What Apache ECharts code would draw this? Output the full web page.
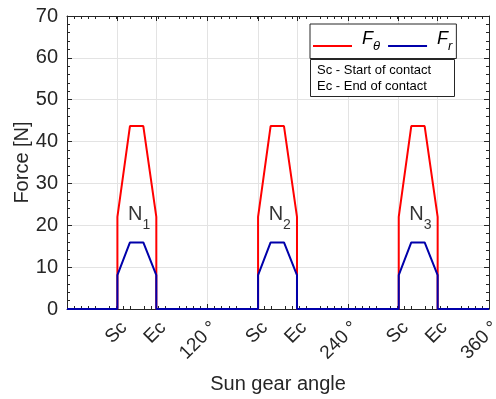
<!DOCTYPE html>
<html>
<head>
<meta charset="utf-8">
<script src="https://cdn.jsdelivr.net/npm/echarts@6/dist/echarts.min.js"></script>
<style>html,body{margin:0;padding:0;background:#fff}#c{width:496px;height:399px}</style>
</head>
<body>
<div id="c"></div>
<script>
// Sun gear angle (deg) breakpoints for each planet contact
const angleN1 = [0, 43, 43, 53.7, 65.1, 76.2, 76.2];
const angleN2 = [163, 163, 173.7, 185.1, 196.2, 196.2];
const angleN3 = [283, 283, 293.7, 305.1, 316.2, 316.2, 360];
// Tangential force F_theta [N]
const fThetaN1 = [0, 0, 22, 43.7, 43.7, 22, 0];
const fThetaN2 = [0, 22, 43.7, 43.7, 22, 0];
const fThetaN3 = [0, 22, 43.7, 43.7, 22, 0, 0];
// Radial force F_r [N]
const fRN1 = [0, 0, 8.1, 15.9, 15.9, 8.1, 0];
const fRN2 = [0, 8.1, 15.9, 15.9, 8.1, 0];
const fRN3 = [0, 8.1, 15.9, 15.9, 8.1, 0, 0];
// x tick positions and labels
const xTickValues = [43, 76.2, 120, 163, 196.2, 240, 283, 316.2, 360];
const xTickLabels = ['Sc', 'Ec', '120 °', 'Sc', 'Ec', '240 °', 'Sc', 'Ec', '360 °'];
// planet labels
const planetNames = ['1', '2', '3'];
const planetLabelX = [61.5, 181.5, 301.5];
const planetLabelY = [20, 20, 20];

const angles = angleN1.concat(angleN2, angleN3);
const fTheta = fThetaN1.concat(fThetaN2, fThetaN3);
const fR = fRN1.concat(fRN2, fRN3);
const thetaData = angles.map((a, i) => [a, fTheta[i]]);
const rData = angles.map((a, i) => [a, fR[i]]);
const planetData = planetLabelX.map((x, i) => ({ value: [x, planetLabelY[i]], name: planetNames[i] }));

const FONT = 'Liberation Sans, Arial, sans-serif';
const AX = '#262626';
const GRID = '#e3e3e3';
const RED = '#ff0000';
const BLUE = '#0000aa';

function xLabel(v) {
  for (let i = 0; i < xTickValues.length; i++) if (Math.abs(xTickValues[i] - v) < 1e-6) return xTickLabels[i];
  return '';
}

const chart = echarts.init(document.getElementById('c'), null, { renderer: 'canvas' });
const xCommon = {
  type: 'value', min: 0, max: 360, interval: 30,
  axisLine: { show: true, onZero: false, lineStyle: { color: AX, width: 1 } },
  axisTick: { show: true, inside: true, length: 5, customValues: xTickValues, lineStyle: { color: AX } },
  minorTick: { show: true, splitNumber: 5, length: 3, lineStyle: { color: AX } },
  splitLine: { show: false },
};
const yCommon = {
  type: 'value', min: 0, max: 70, interval: 10,
  axisLine: { show: true, onZero: false, lineStyle: { color: AX, width: 1 } },
  axisTick: { show: true, inside: true, length: 5, lineStyle: { color: AX } },
  minorTick: { show: true, splitNumber: 5, length: 3, lineStyle: { color: AX } },
  splitLine: { show: false },
};
chart.setOption({
  animation: false,
  backgroundColor: '#fff',
  grid: { left: 67, right: 7, top: 16, bottom: 90, containLabel: false, outerBoundsMode: 'none' },
  title: {
    text: 'Sc - Start of contact\nEc - End of contact',
    left: 310, top: 59,
    padding: [3, 24, 3, 7],
    borderColor: AX, borderWidth: 1, backgroundColor: '#fff',
    textStyle: { fontFamily: FONT, fontSize: 13, fontWeight: 'normal', color: '#000', lineHeight: 16 }
  },
  legend: {
    left: 310, top: 24,
    padding: [6, 4, 6, 3],
    icon: 'rect',
    itemWidth: 39, itemHeight: 2, itemGap: 8,
    borderColor: AX, borderWidth: 1, backgroundColor: '#fff',
    data: [{ name: 'Fθ', itemStyle: { color: RED } }, { name: 'Fr', itemStyle: { color: BLUE } }],
    formatter: function (name) { return name === 'Fθ' ? '{f|F}{s|θ}' : '{f|F}{s|r}'; },
    textStyle: {
      fontFamily: FONT, color: '#000',
      rich: {
        f: { fontSize: 18, fontStyle: 'italic', fontFamily: FONT, lineHeight: 20, verticalAlign: 'top', padding: [0, 0, 0, 5] },
        s: { fontSize: 13, fontStyle: 'italic', fontFamily: FONT, lineHeight: 32, verticalAlign: 'middle' }
      }
    }
  },
  xAxis: [
    Object.assign({}, xCommon, {
      position: 'bottom',
      name: 'Sun gear angle', nameLocation: 'middle', nameGap: 65,
      nameTextStyle: { fontFamily: FONT, fontSize: 20, color: AX },
      axisLabel: {
        show: true, customValues: xTickValues, rotate: 45, margin: 9,
        verticalAlign: 'top', formatter: xLabel,
        fontFamily: FONT, fontSize: 19, color: AX
      },
      splitLine: { show: true, lineStyle: { color: GRID, width: 1 } }
    }),
    Object.assign({}, xCommon, { position: 'top', axisLabel: { show: false } })
  ],
  yAxis: [
    Object.assign({}, yCommon, {
      position: 'left',
      name: 'Force [N]', nameLocation: 'middle', nameGap: 35, nameMoveOverlap: false,
      nameTextStyle: { fontFamily: FONT, fontSize: 20, color: AX },
      axisLabel: { show: true, margin: 9, fontFamily: FONT, fontSize: 20, color: AX },
      splitLine: { show: true, lineStyle: { color: GRID, width: 1 } }
    }),
    Object.assign({}, yCommon, { position: 'right', axisLabel: { show: false } })
  ],
  series: [
    {
      name: 'Fθ', type: 'line', data: thetaData, symbol: 'none', color: RED,
      lineStyle: { color: RED, width: 2 }, z: 3
    },
    {
      name: 'Fr', type: 'line', data: rData, symbol: 'none', color: BLUE,
      lineStyle: { color: BLUE, width: 2 }, z: 4
    },
    {
      type: 'scatter', data: planetData, symbolSize: 0, silent: true, z: 5,
      label: {
        show: true, position: 'inside',
        formatter: function (p) { return '{n|N}{s|' + p.name + '}'; },
        rich: {
          n: { fontFamily: FONT, fontSize: 20, color: '#000', lineHeight: 20, verticalAlign: 'top' },
          s: { fontFamily: FONT, fontSize: 14, color: '#000', lineHeight: 42, verticalAlign: 'middle' }
        }
      }
    }
  ]
});
</script>
</body>
</html>
